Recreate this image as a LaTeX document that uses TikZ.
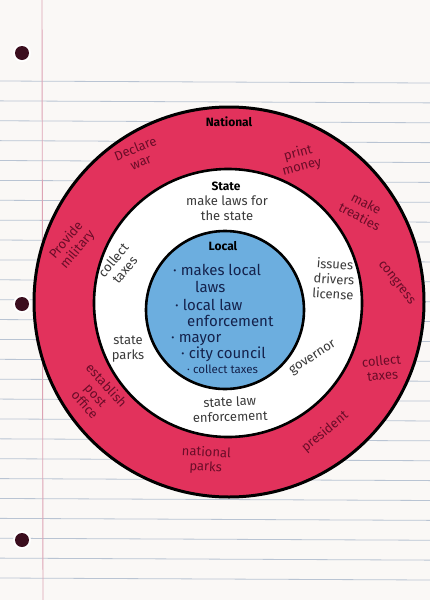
\documentclass[tikz,border=0pt]{standalone}
\usepackage{fontspec}
\setmainfont{Fira Sans}
\definecolor{paper}{HTML}{FAF8F6}
\definecolor{rulecol}{HTML}{B9C4D3}
\definecolor{margincol}{HTML}{DDA3B4}
\definecolor{holecol}{HTML}{3B0E1E}
\definecolor{natfill}{HTML}{E2325C}
\definecolor{localfill}{HTML}{6CAEDF}
\definecolor{nattext}{HTML}{6A0C28}
\definecolor{statetext}{HTML}{3A3A3A}
\definecolor{localtext}{HTML}{14224C}

\begin{document}
\begin{tikzpicture}[x=1pt, y=-1pt,
    ruled/.style={rulecol, line width=0.8pt},
    ring/.style={circle, draw=black, line width=2.6pt, inner sep=0pt},
    title/.style={font=\bfseries\fontsize{12}{13}\selectfont, text=black, inner sep=0pt},
    natlabel/.style={text=nattext, align=center, inner sep=0pt, font=\fontsize{13}{14.5}\selectfont},
    statelabel/.style={text=statetext, align=center, inner sep=0pt, font=\fontsize{13}{15}\selectfont},
    locallabel/.style={text=localtext, anchor=west, inner sep=0pt, font=\fontsize{15}{15}\selectfont}]
    % Paper
    \fill[paper] (0,0) rectangle (430,600);
    \useasboundingbox (0,0) rectangle (430,600);

    % Ruled lines
    \foreach \k in {0, 1, ..., 25} {
        \draw[ruled] (0, 81+19.88*\k) -- (430, 83+19.88*\k);
    }

    % Margin and holes
    \draw[margincol, line width=0.9pt] (42,0) -- (43,600);
    \foreach \y in {53, 304, 540} {
        \fill[white] (22,\y) circle (9pt);
        \fill[holecol] (22,\y) circle (7pt);
    }

    % Circles
    \node[ring, fill=natfill, minimum size=390pt, line width=3pt] (national) at (229,302) {};
    \node[ring, fill=white, minimum size=268pt] (state) at (228,303) {};
    \node[ring, fill=localfill, minimum size=158pt] (local) at (225,310) {};

    % Titles
    \node[title] (natTitle) at (229,122) {National};
    \node[title] (stateTitle) at (226,186) {State};
    \node[title] (localTitle) at (223,246) {Local};

    % National ring
    \node[natlabel, rotate=22] (declare) at (138,155) {Declare\\war};
    \node[natlabel, rotate=15] (money) at (300,160) {print\\money};
    \node[natlabel, rotate=-28] (treaties) at (363,210) {make\\treaties};
    \node[natlabel, rotate=-52] (congress) at (396,283) {congress};
    \node[natlabel, rotate=50] (military) at (72,245) {Provide\\military};
    \node[natlabel, rotate=5] (natTaxes) at (382,368) {collect\\taxes};
    \node[natlabel, rotate=40] (president) at (325,432) {president};
    \node[natlabel, rotate=-3] (natParks) at (206,460) {national\\parks};
    \node[natlabel, rotate=-48] (post) at (96,395) {establish\\post\\office};

    % State ring
    \node[statelabel] (stateLaws) at (227,208) {make laws for\\the state};
    \node[statelabel, rotate=50] (stateTaxes) at (119,265) {collect\\taxes};
    \node[statelabel, rotate=-4] (license) at (334,279) {issues\\drivers\\license};
    \node[statelabel] (stateParks) at (128,349) {state\\parks};
    \node[statelabel, rotate=33] (governor) at (313,358) {governor};
    \node[statelabel, rotate=2] (stateLaw) at (230,409) {state law\\enforcement};

    % Local circle
    \foreach \i/\xx/\yy/\txt in {1/173/270/{· makes local}, 2/195/287/laws,
        3/175/305/{· local law}, 4/187/321/enforcement, 5/171/340/{· mayor},
        6/181/354/{· city council}} {
        \node[locallabel] (loc\i) at (\xx,\yy) {\txt};
    }
    \node[locallabel, font=\fontsize{11.5}{12}\selectfont] (loc7) at (187,369) {· collect taxes};
\end{tikzpicture}
\end{document}
